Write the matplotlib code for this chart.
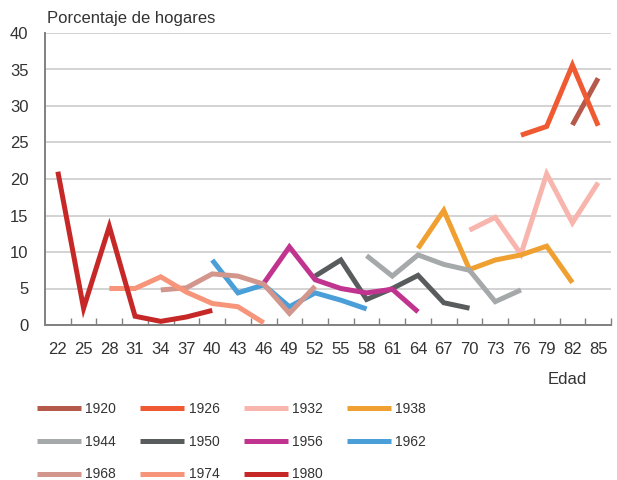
import matplotlib
matplotlib.use("Agg")
import matplotlib.pyplot as plt

ages = [22, 25, 28, 31, 34, 37, 40, 43, 46, 49, 52, 55, 58, 61, 64, 67, 70, 73, 76, 79, 82, 85]

cohorts = ["1920", "1926", "1932", "1938", "1944", "1950", "1956", "1962", "1968", "1974", "1980"]
start_age = {"1920": 82, "1926": 76, "1932": 70, "1938": 64, "1944": 58, "1950": 52,
             "1956": 46, "1962": 40, "1968": 34, "1974": 28, "1980": 22}
values = {
    "1920": [27.4, 33.8],
    "1926": [26.0, 27.2, 35.6, 27.3],
    "1932": [13.0, 14.75, 9.7, 20.7, 14.0, 19.5],
    "1938": [10.5, 15.7, 7.6, 8.9, 9.6, 10.8, 5.8],
    "1944": [9.5, 6.7, 9.6, 8.3, 7.5, 3.2, 4.8],
    "1950": [6.7, 8.9, 3.5, 5.0, 6.8, 3.05, 2.3],
    "1956": [5.7, 10.7, 6.2, 5.0, 4.4, 4.9, 1.8],
    "1962": [8.9, 4.4, 5.5, 2.5, 4.4, 3.4, 2.2],
    "1968": [4.8, 5.1, 7.0, 6.7, 5.6, 1.6, 5.3],
    "1974": [5.0, 5.0, 6.6, 4.5, 2.95, 2.5, 0.3],
    "1980": [21.0, 2.3, 13.5, 1.2, 0.5, 1.1, 2.0],
}
colors = {
    "1920": "#B5594B", "1926": "#F05A32", "1932": "#F8B5AD", "1938": "#F0A030",
    "1944": "#A5A9AA", "1950": "#585C5C", "1956": "#C0338F", "1962": "#4A9FD8",
    "1968": "#D3968C", "1974": "#F7957A", "1980": "#C62828",
}

plt.rcParams['font.family'] = ['Liberation Sans', 'DejaVu Sans']
txt = "#333333"

fig = plt.figure(figsize=(6.17, 4.8), dpi=100)
ax = fig.add_axes([45/617, 1-325/480, 566/617, 292/480])

handles = {}
for c in cohorts:
    i0 = ages.index(start_age[c])
    xs = list(range(i0, i0 + len(values[c])))
    ln, = ax.plot(xs, values[c], color=colors[c], lw=3.6, solid_capstyle='butt',
                  solid_joinstyle='miter', label=c, zorder=3)
    handles[c] = ln

ax.set_xlim(-0.5, len(ages) - 0.5)
ax.set_ylim(0, 40)
ax.set_yticks(range(0, 41, 5))
ax.yaxis.grid(True, color="#C8C8C8", lw=1.1)
ax.set_axisbelow(True)

ax.set_xticks([i + 0.5 for i in range(len(ages))])
ax.set_xticklabels([])
ax.set_xticks(range(len(ages)), minor=True)
ax.set_xticklabels([str(a) for a in ages], minor=True)
ax.tick_params(axis='x', which='major', direction='in', length=5, width=1, color="#808080")
ax.tick_params(axis='x', which='minor', length=0, pad=12, labelsize=12, labelcolor=txt)
ax.tick_params(axis='y', length=0, pad=12, labelsize=12, labelcolor=txt)

for s in ['top', 'right']:
    ax.spines[s].set_visible(False)
for s in ['left', 'bottom']:
    ax.spines[s].set_color("#808080")
    ax.spines[s].set_linewidth(1.4)

fig.text(47/617, 1-18/480, "Porcentaje de hogares", fontsize=12, color=txt, va='center', ha='left')
fig.text(587/617, 1-380/480, "Edad", fontsize=12, color=txt, va='center', ha='right')

order = ["1920", "1944", "1968", "1926", "1950", "1974", "1932", "1956", "1980", "1938", "1962"]
leg = fig.legend([handles[c] for c in order], order, ncol=4, loc='upper left',
                 bbox_to_anchor=(37/617, 1-402/480), frameon=False, fontsize=10,
                 handlelength=3.15, handletextpad=0.32, columnspacing=1.75, labelspacing=1.35,
                 borderaxespad=0, borderpad=0)
for t in leg.get_texts():
    t.set_color(txt)

fig.savefig("out.png", dpi=100)
